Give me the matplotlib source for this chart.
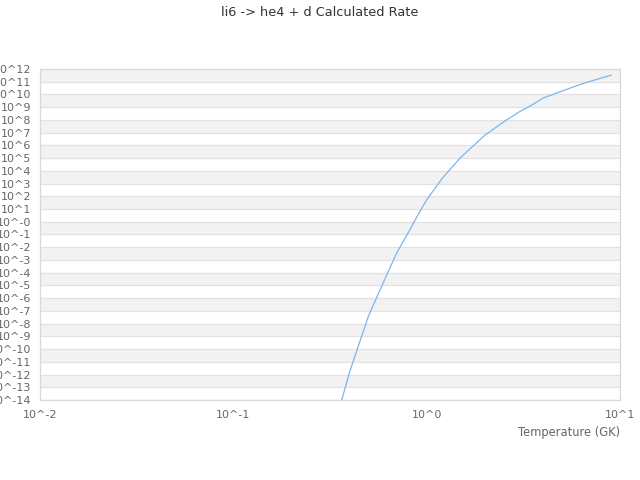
import matplotlib
matplotlib.use("Agg")
import matplotlib.pyplot as plt
import numpy as np

# temperature grid (GK) and rate (log10 values)
temperature = [0.3, 0.4, 0.5, 0.6, 0.7, 0.8, 0.9, 1.0, 1.2, 1.5, 2.0, 2.5,
               3.0, 3.5, 4.0, 5.0, 6.0, 7.0, 8.0, 9.0]
log_rate = [-18.5, -11.77, -7.4, -4.69, -2.45, -0.9, 0.52, 1.72, 3.39,
            5.06, 6.8, 7.84, 8.62, 9.17, 9.72, 10.26, 10.70, 11.03, 11.29,
            11.51]

y_exponents = list(range(-14, 13))
y_labels = ["10^-0" if e == 0 else "10^%d" % e for e in y_exponents]
x_exponents = [-2, -1, 0, 1]
x_labels = ["10^%d" % e for e in x_exponents]

LINE = "#7cb5ec"
GRID = "#e2e2e2"
BAND = "#f2f2f2"
TEXT = "#666666"

fig = plt.figure(figsize=(6.4, 4.8), dpi=100)
ax = fig.add_axes([40 / 640, 80 / 480, 580 / 640, 331 / 480])

rate = 10.0 ** np.array(log_rate)
ax.plot(temperature, rate, color=LINE, linewidth=0.9, clip_on=True)

ax.set_xscale("log")
ax.set_yscale("log")
ax.set_xlim(1e-2, 1e1)
ax.set_ylim(1e-14, 1e12)

# alternating bands, grey where the band tops at an even exponent
for e in y_exponents[:-1]:
    if (e + 1) % 2 == 0:
        ax.axhspan(10.0 ** e, 10.0 ** (e + 1), color=BAND, zorder=0, lw=0)
for e in y_exponents:
    ax.axhline(10.0 ** e, color=GRID, linewidth=0.9, zorder=0.5)

ax.set_yticks([10.0 ** e for e in y_exponents])
ax.set_yticklabels(y_labels)
ax.set_xticks([10.0 ** e for e in x_exponents])
ax.set_xticklabels(x_labels)
ax.minorticks_off()
ax.tick_params(axis="both", length=0, labelsize=8, labelcolor=TEXT)
ax.tick_params(axis="y", pad=6.5)
ax.tick_params(axis="x", pad=7)

for side in ax.spines.values():
    side.set_color("#d8d8d8")
    side.set_linewidth(0.9)

ax.set_xlabel("Temperature (GK)", fontsize=8.3, color=TEXT, loc="right",
              labelpad=4.5)
fig.suptitle("li6 -> he4 + d Calculated Rate", fontsize=9.3, color="#333333",
             y=1 - 12 / 480, va="center")

fig.savefig("out.png", dpi=100)
